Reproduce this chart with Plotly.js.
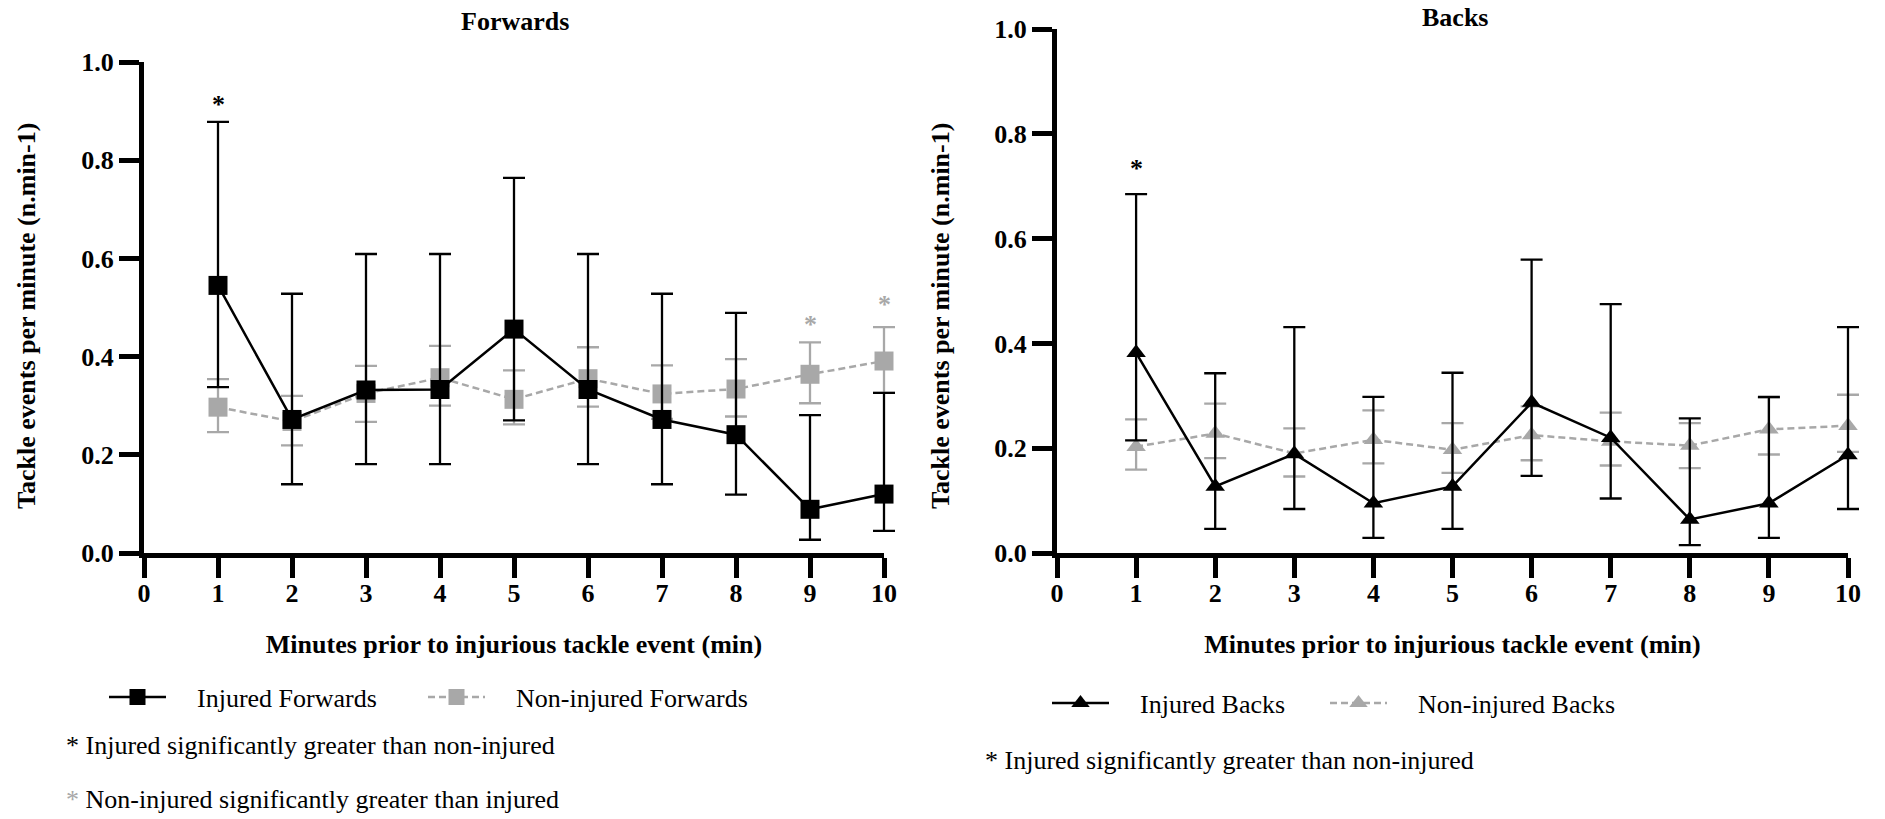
<!DOCTYPE html>
<html>
<head>
<meta charset="utf-8">
<script src="https://cdn.plot.ly/plotly-3.0.1.min.js"></script>
<style>html,body{margin:0;padding:0;background:#fff;}#chart{width:1885px;height:819px;}</style>
</head>
<body>
<div id="chart"></div>
<script>
// ---------- data ----------
const minutes = [1, 2, 3, 4, 5, 6, 7, 8, 9, 10];
const xTicks = [0, 1, 2, 3, 4, 5, 6, 7, 8, 9, 10];
const yTicks = [0, 0.2, 0.4, 0.6, 0.8, 1.0];

// Forwards
const injFwd   = [0.545, 0.272, 0.332, 0.333, 0.456, 0.333, 0.272, 0.241, 0.089, 0.120];
const injFwdHi = [0.878, 0.528, 0.609, 0.609, 0.764, 0.609, 0.528, 0.489, 0.281, 0.326];
const injFwdLo = [0.338, 0.140, 0.181, 0.181, 0.270, 0.181, 0.140, 0.119, 0.027, 0.045];
const nonFwd   = [0.297, 0.268, 0.325, 0.357, 0.313, 0.355, 0.324, 0.334, 0.364, 0.391];
const nonFwdHi = [0.354, 0.320, 0.381, 0.422, 0.372, 0.419, 0.382, 0.395, 0.429, 0.460];
const nonFwdLo = [0.246, 0.219, 0.267, 0.300, 0.262, 0.298, 0.273, 0.278, 0.305, 0.326];

// Backs
const injBack   = [0.382, 0.127, 0.189, 0.095, 0.127, 0.287, 0.220, 0.064, 0.095, 0.187];
const injBackHi = [0.685, 0.343, 0.431, 0.298, 0.344, 0.560, 0.475, 0.257, 0.298, 0.431];
const injBackLo = [0.215, 0.046, 0.084, 0.029, 0.046, 0.147, 0.104, 0.015, 0.029, 0.084];
const nonBack   = [0.203, 0.228, 0.190, 0.216, 0.197, 0.225, 0.213, 0.205, 0.236, 0.243];
const nonBackHi = [0.255, 0.285, 0.238, 0.272, 0.248, 0.280, 0.268, 0.248, 0.296, 0.302];
const nonBackLo = [0.159, 0.181, 0.146, 0.171, 0.153, 0.177, 0.167, 0.162, 0.188, 0.193];

// significance markers (minute, height of asterisk)
const sigInjFwdX = [1],     sigInjFwdY = [0.926];
const sigNonFwdX = [9, 10], sigNonFwdY = [0.477, 0.519];
const sigInjBackX = [1],    sigInjBackY = [0.745];

// ---------- styling ----------
const BLACK = '#000000';
const GREY = '#a8a8a8';
const FONT = 'Liberation Serif, Times New Roman, serif';
const NB = '\u00a0\u00a0\u00a0\u00a0';
const EXT = 0.4; // extra room right of minute 10 so error-bar caps are not clipped

function up(v, hi) { return hi.map((h, i) => +(h - v[i]).toFixed(4)); }
function down(v, lo) { return lo.map((l, i) => +(v[i] - l).toFixed(4)); }

function series(name, y, hi, lo, color, symbol, size, dash, xa, ya, legend) {
  return {
    type: 'scatter', mode: 'lines+markers', name: NB + name,
    x: minutes, y: y, xaxis: xa, yaxis: ya, legend: legend,
    line: {color: color, width: 2.5, dash: dash},
    marker: {color: color, symbol: symbol, size: size},
    error_y: {type: 'data', symmetric: false, array: up(y, hi), arrayminus: down(y, lo),
              color: color, thickness: 2.3, width: 11},
    cliponaxis: false
  };
}
// empty carrier so the visible 0..10 axes get drawn
function carrier(xa, ya) {
  return {type: 'scatter', mode: 'markers', x: [], y: [], xaxis: xa, yaxis: ya,
          showlegend: false, hoverinfo: 'skip'};
}

const data = [
  carrier('x3', 'y'),
  carrier('x4', 'y2'),
  series('Non-injured Forwards', nonFwd, nonFwdHi, nonFwdLo, GREY, 'square', 19, '7px,4px', 'x', 'y', 'legend2'),
  series('Injured Forwards', injFwd, injFwdHi, injFwdLo, BLACK, 'square', 19, 'solid', 'x', 'y', 'legend'),
  series('Non-injured Backs', nonBack, nonBackHi, nonBackLo, GREY, 'triangle-up', 17, '7px,4px', 'x2', 'y2', 'legend4'),
  series('Injured Backs', injBack, injBackHi, injBackLo, BLACK, 'triangle-up', 17, 'solid', 'x2', 'y2', 'legend3')
];

const W = 1885, H = 819;
function px(x) { return x / W; }
function py(y) { return 1 - y / H; }

const tickFont = {family: FONT, size: 26, color: BLACK, weight: 'bold'};

function dataX(x0, x10) {
  const unit = (x10 - x0) / 10;
  return {domain: [px(x0), px(x10 + EXT * unit)], range: [0, 10 + EXT],
          showline: false, showticklabels: false, ticks: '',
          showgrid: false, zeroline: false};
}
function showX(x0, x10, anchor) {
  return {
    domain: [px(x0), px(x10)], anchor: anchor, range: [0, 10], tickvals: xTicks,
    showline: true, linewidth: 5, linecolor: BLACK,
    ticks: 'outside', ticklen: 20, tickwidth: 5, tickcolor: BLACK,
    showgrid: false, zeroline: false, tickfont: tickFont, ticklabelstandoff: -7,
    title: {text: 'Minutes prior to injurious tackle event (min)', standoff: 29,
            font: {family: FONT, size: 26, color: BLACK, weight: 'bold'}}
  };
}
function yaxis(domain, anchor) {
  return {
    domain: domain, anchor: anchor, range: [0, 1], tickvals: yTicks, tickformat: '.1f',
    showline: true, linewidth: 5, linecolor: BLACK,
    ticks: 'outside', ticklen: 20, tickwidth: 5, tickcolor: BLACK,
    showgrid: false, zeroline: false, tickfont: tickFont
  };
}

function legendAt(x, y) {
  return {x: px(x), y: py(y), xref: 'paper', yref: 'paper', xanchor: 'left', yanchor: 'middle',
          orientation: 'h', bgcolor: 'rgba(0,0,0,0)', borderwidth: 0, itemwidth: 57,
          font: {family: FONT, size: 26, color: BLACK}, itemclick: false};
}

const annotations = [];
function star(xs, ys, color, xref, yref) {
  xs.forEach((x, i) => annotations.push({
    x: x, y: ys[i], xref: xref, yref: yref, text: '*', showarrow: false,
    yanchor: 'middle', yshift: -6,
    font: {family: FONT, size: 26, color: color, weight: 'bold'}
  }));
}
star(sigInjFwdX, sigInjFwdY, BLACK, 'x', 'y');
star(sigNonFwdX, sigNonFwdY, GREY, 'x', 'y');
star(sigInjBackX, sigInjBackY, BLACK, 'x2', 'y2');

function note(text, x, y, bold, anchor, angle) {
  annotations.push({
    x: px(x), y: py(y), xref: 'paper', yref: 'paper', text: text, showarrow: false,
    xanchor: anchor || 'left', yanchor: 'middle', textangle: angle || 0,
    font: {family: FONT, size: 26, color: BLACK, weight: bold ? 'bold' : 'normal'}
  });
}
note('Forwards', 515, 21, true, 'center');
note('Backs', 1455, 17, true, 'center');
note('Tackle events per minute (n.min-1)', 27, 316, true, 'center', -90);
note('Tackle events per minute (n.min-1)', 941, 316, true, 'center', -90);
note('* Injured significantly greater than non-injured', 64, 745, false);
note('<span style="color:' + GREY + '">*</span> Non-injured significantly greater than injured', 64, 799, false);
note('* Injured significantly greater than non-injured', 983, 760, false);

const layout = {
  width: W, height: H,
  margin: {l: 0, r: 0, t: 0, b: 0},
  paper_bgcolor: '#ffffff', plot_bgcolor: 'rgba(0,0,0,0)',
  showlegend: true,
  xaxis: dataX(144, 884),
  yaxis: yaxis([py(553), py(62)], 'x'),
  xaxis2: dataX(1057, 1848),
  yaxis2: yaxis([py(553), py(29)], 'x2'),
  xaxis3: showX(144, 884, 'y'),
  xaxis4: showX(1057, 1848, 'y2'),
  legend: legendAt(104, 697),
  legend2: legendAt(423, 697),
  legend3: legendAt(1047, 703),
  legend4: legendAt(1325, 703),
  annotations: annotations
};

Plotly.newPlot('chart', data, layout, {staticPlot: true, displayModeBar: false});
</script>
</body>
</html>
